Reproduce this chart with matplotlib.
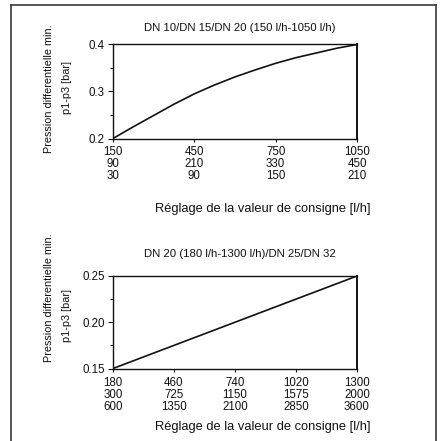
import matplotlib
matplotlib.use('Agg')
import matplotlib.pyplot as plt
from matplotlib import transforms
from matplotlib.lines import Line2D

plt.rcParams['font.family'] = ['Liberation Sans', 'DejaVu Sans']

W, H = 445, 441   # pixel size of the figure
INK = '#111111'

# --- data ---
top_title = 'DN 10/DN 15/DN 20 (150 l/h-1050 l/h)'
top_x = [150, 225, 300, 375, 450, 525, 600, 675, 750, 825, 900, 975, 1050]
top_y = [0.200, 0.225, 0.249, 0.273, 0.295, 0.314, 0.331, 0.346, 0.360, 0.372, 0.382, 0.392, 0.400]
top_ticks = [150, 450, 750, 1050]
top_rows = [['150', '450', '750', '1050'],
            ['90', '210', '330', '450'],
            ['30', '90', '150', '210']]
top_yticks = [0.2, 0.3, 0.4]
top_ylabels = ['0.2', '0.3', '0.4']
top_yminor = [0.25, 0.35]

bot_title = 'DN 20 (180 l/h-1300 l/h)/DN 25/DN 32'
bot_x = [180, 460, 740, 1020, 1300]
bot_y = [0.150, 0.175, 0.200, 0.225, 0.250]
bot_ticks = [180, 460, 740, 1020, 1300]
bot_rows = [['180', '460', '740', '1020', '1300'],
            ['300', '725', '1150', '1575', '2000'],
            ['600', '1350', '2100', '2850', '3600']]
bot_yticks = [0.15, 0.20, 0.25]
bot_ylabels = ['0.15', '0.20', '0.25']
bot_yminor = [0.175, 0.225]

xlabel = 'Réglage de la valeur de consigne [l/h]'
ylabel1 = 'Pression differentielle min.'
ylabel2 = 'p1-p3 [bar]'


def fx(px):
    return px / W


def fy(py):
    return 1 - py / H


fig = plt.figure(figsize=(W / 100, H / 100), dpi=100)


def panel(box, xs, ys, ticks, rows, yt, ytl, ymin, title, row_y, title_y, xl_y, yl1, yl2):
    left, top, right, bottom = box
    ax = fig.add_axes([fx(left), fy(bottom), fx(right - left), (bottom - top) / H])
    ax.plot(xs, ys, color=INK, lw=1.2, solid_capstyle='round')
    ax.set_xlim(ticks[0], ticks[-1])
    ax.set_ylim(yt[0], yt[-1])
    for s in ax.spines.values():
        s.set_linewidth(1.0)
        s.set_color(INK)
    ax.spines['right'].set_linewidth(1.4)
    ax.set_yticks(yt)
    ax.set_yticklabels(ytl)
    ax.set_yticks(ymin, minor=True)
    ax.set_xticks(ticks)
    ax.set_xticklabels([])
    ax.tick_params(axis='y', which='major', length=3.3, width=0.8, pad=2.5, labelsize=8.3, colors=INK)
    ax.tick_params(axis='y', which='minor', length=2.2, width=0.8, colors=INK)
    ax.tick_params(axis='x', which='major', length=2.2, width=0.8, colors=INK)

    # three rows of x tick labels
    trans = transforms.blended_transform_factory(ax.transData, fig.transFigure)
    for r, labels in enumerate(rows):
        for t, lab in zip(ticks, labels):
            ax.text(t, fy(row_y[r]), lab, transform=trans, ha='center', va='center',
                    fontsize=8.3, color=INK, clip_on=False)

    fig.text(fx(240), fy(title_y), title, ha='center', va='center', fontsize=8.2, color=INK)
    fig.text(fx(263), fy(xl_y), xlabel, ha='center', va='center', fontsize=9.3, color=INK)
    fig.text(fx(49), fy(yl1), ylabel1, rotation=90, ha='center', va='center', fontsize=7.8, color=INK)
    fig.text(fx(67), fy(yl2), ylabel2, rotation=90, ha='center', va='center', fontsize=7.8, color=INK)
    return ax


ax1 = panel((113, 44.5, 357, 138.5), top_x, top_y, top_ticks, top_rows,
            top_yticks, top_ylabels, top_yminor, top_title,
            [152.3, 164.2, 175.8], 28, 209, 89, 88)
ax2 = panel((113, 276, 357, 368.5), bot_x, bot_y, bot_ticks, bot_rows,
            bot_yticks, bot_ylabels, bot_yminor, bot_title,
            [383.5, 395.5, 407.2], 254, 427, 298, 316)

# outer frame, open at the bottom
for xs_, ys_ in [([10.5, 10.5], [441, 4.5]), ([10.5, 436], [4.5, 4.5]), ([436, 436], [4.5, 441])]:
    fig.add_artist(Line2D([fx(v) for v in xs_], [fy(v) for v in ys_],
                          transform=fig.transFigure, color='#3a3a3a', lw=1.2))

fig.savefig('out.png', dpi=100)
